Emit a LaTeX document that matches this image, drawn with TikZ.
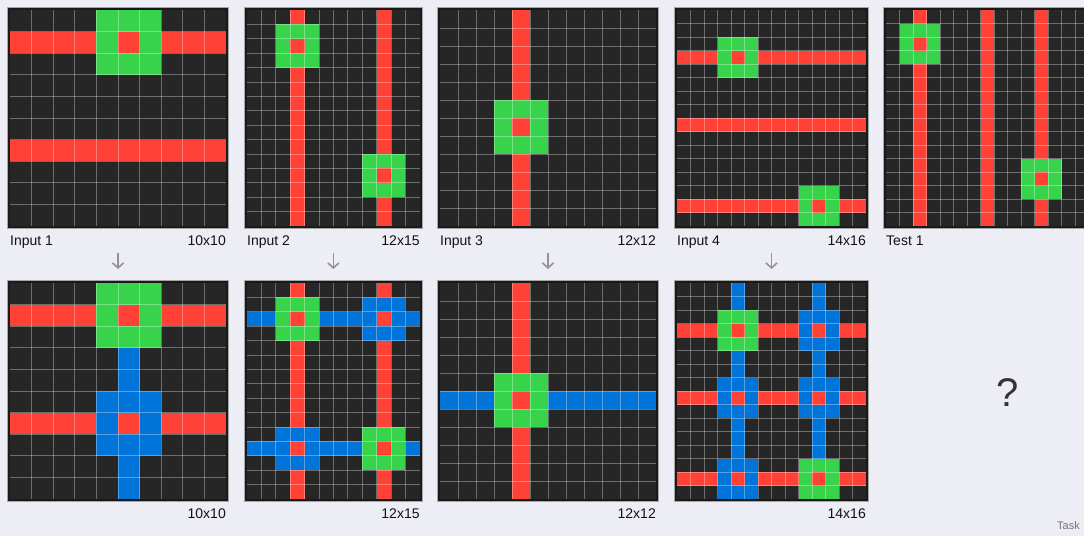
\documentclass[tikz,border=0pt]{standalone}
\usepackage{fontspec}
\setmainfont{Liberation Sans}
\usetikzlibrary{positioning, arrows.meta}
\definecolor{page}{HTML}{EDEDF5}
\definecolor{cellbg}{HTML}{262626}
\definecolor{rim}{HTML}{1A1A1A}
\definecolor{cred}{HTML}{FF4136}
\definecolor{cgreen}{HTML}{37D44B}
\definecolor{cblue}{HTML}{0074D9}
\definecolor{txt}{HTML}{111111}

% one ARC grid: x0, y0 (top left of the cells), cell size, columns, rows
\newcommand{\arcgrid}[5]{%
  \def\gx{#1}\def\gy{#2}\def\gs{#3}\def\gw{#4}\def\gh{#5}%
  \pgfmathsetmacro\gwd{#4*#3}\pgfmathsetmacro\ght{#5*#3}%
  \filldraw[fill=rim, draw=gray!70, line width=0.8pt] (#1-2.6,#2-2.6) rectangle ++(\gwd+5.2,\ght+5.2);
  \fill[cellbg] (#1,#2) rectangle ++(\gwd,\ght);
}
\newcommand{\gridlines}{%
  \pgfmathtruncatemacro\gwm{\gw-1}\pgfmathtruncatemacro\ghm{\gh-1}%
  \foreach \i in {1,...,\gwm} \draw[gline] (\gx+\i*\gs,\gy) -- ++(0,\ght);
  \foreach \i in {1,...,\ghm} \draw[gline] (\gx,\gy+\i*\gs) -- ++(\gwd,0);
}
% colour, row, first column, last column
\newcommand{\cellrow}[4]{\fill[#1] (\gx+#3*\gs,\gy+#2*\gs) rectangle (\gx+#4*\gs+\gs,\gy+#2*\gs+\gs);}
% colour, column, first row, last row
\newcommand{\cellcol}[4]{\fill[#1] (\gx+#2*\gs,\gy+#3*\gs) rectangle (\gx+#2*\gs+\gs,\gy+#4*\gs+\gs);}
% colour, centre row, centre column (3x3 ring with a red middle)
\newcommand{\cellbox}[3]{\fill[#1] (\gx+#3*\gs-\gs,\gy+#2*\gs-\gs) rectangle ++(3*\gs,3*\gs);
  \fill[cred] (\gx+#3*\gs,\gy+#2*\gs) rectangle ++(\gs,\gs);}

\begin{document}
\begin{tikzpicture}[
  x=1pt, y=-1pt,
  gline/.style={white, opacity=0.33, line width=0.8pt},
  lbl/.style={font=\fontsize{14}{16}\selectfont, text=txt, inner sep=0pt},
  flow/.style={-{Straight Barb[length=5pt, width=11pt]}, line width=1.6pt, gray!85}
]
  \fill[page] (0,0) rectangle (1084,536);
  \useasboundingbox (0,0) rectangle (1084,536);
  \clip (0,0) rectangle (1084,536);

  % Input 1
  \arcgrid{10}{10}{21.6}{10}{10}
  \cellrow{cred}{1}{0}{9} \cellrow{cred}{6}{0}{9}
  \cellbox{cgreen}{1}{5}
  \gridlines
  \node[lbl, anchor=base west] (lin1) at (10,245) {Input 1};
  \node[lbl, anchor=base east] (lsz1) at (226,245) {10x10};

  % Output 1
  \arcgrid{10}{283}{21.6}{10}{10}
  \cellrow{cred}{1}{0}{9} \cellrow{cred}{6}{0}{9}
  \cellcol{cblue}{5}{3}{9}
  \cellbox{cgreen}{1}{5} \cellbox{cblue}{6}{5}
  \gridlines
  \node[lbl, anchor=base east] (osz1) at (226,518) {10x10};

  % Input 2
  \arcgrid{247}{10}{14.4}{12}{15}
  \cellcol{cred}{3}{0}{14} \cellcol{cred}{9}{0}{14}
  \cellbox{cgreen}{2}{3} \cellbox{cgreen}{11}{9}
  \gridlines
  \node[lbl, anchor=base west] (lin2) at (247,245) {Input 2};
  \node[lbl, anchor=base east] (lsz2) at (419.8,245) {12x15};

  % Output 2
  \arcgrid{247}{283}{14.4}{12}{15}
  \cellcol{cred}{3}{0}{14} \cellcol{cred}{9}{0}{14}
  \cellrow{cblue}{2}{0}{11} \cellrow{cblue}{11}{0}{11}
  \cellbox{cgreen}{2}{3} \cellbox{cblue}{2}{9}
  \cellbox{cblue}{11}{3} \cellbox{cgreen}{11}{9}
  \gridlines
  \node[lbl, anchor=base east] (osz2) at (419.8,518) {12x15};

  % Input 3
  \arcgrid{440}{10}{18}{12}{12}
  \cellcol{cred}{4}{0}{11}
  \cellbox{cgreen}{6}{4}
  \gridlines
  \node[lbl, anchor=base west] (lin3) at (440,245) {Input 3};
  \node[lbl, anchor=base east] (lsz3) at (656,245) {12x12};

  % Output 3
  \arcgrid{440}{283}{18}{12}{12}
  \cellcol{cred}{4}{0}{11}
  \cellrow{cblue}{6}{0}{11}
  \cellbox{cgreen}{6}{4}
  \gridlines
  \node[lbl, anchor=base east] (osz3) at (656,518) {12x12};

  % Input 4
  \arcgrid{677}{10}{13.5}{14}{16}
  \cellrow{cred}{3}{0}{13} \cellrow{cred}{8}{0}{13} \cellrow{cred}{14}{0}{13}
  \cellbox{cgreen}{3}{4} \cellbox{cgreen}{14}{10}
  \gridlines
  \node[lbl, anchor=base west] (lin4) at (677,245) {Input 4};
  \node[lbl, anchor=base east] (lsz4) at (866,245) {14x16};

  % Output 4
  \arcgrid{677}{283}{13.5}{14}{16}
  \cellrow{cred}{3}{0}{13} \cellrow{cred}{8}{0}{13} \cellrow{cred}{14}{0}{13}
  \cellcol{cblue}{4}{0}{15} \cellcol{cblue}{10}{0}{15}
  \cellbox{cgreen}{3}{4} \cellbox{cblue}{8}{4} \cellbox{cblue}{14}{4}
  \cellbox{cblue}{3}{10} \cellbox{cblue}{8}{10} \cellbox{cgreen}{14}{10}
  \gridlines
  \node[lbl, anchor=base east] (osz4) at (866,518) {14x16};

  % Test 1
  \arcgrid{886}{10}{13.5}{16}{16}
  \cellcol{cred}{2}{0}{15} \cellcol{cred}{7}{0}{15} \cellcol{cred}{11}{0}{15}
  \cellbox{cgreen}{2}{2} \cellbox{cgreen}{12}{11}
  \gridlines
  \node[lbl, anchor=base west] (lts1) at (886,245) {Test 1};

  \node[font=\fontsize{40}{40}\selectfont, text=black!80, inner sep=0pt, anchor=base] (ask) at (1008,406) {?};
  \node[font=\fontsize{11}{12}\selectfont, text=black!55, inner sep=0pt, anchor=base east] (task) at (1080,529) {Task};

  % Arrows
  \coordinate (s1) at (118,253);   \coordinate (e1) at (118,269);
  \coordinate (s2) at (333.4,253); \coordinate (e2) at (333.4,269);
  \coordinate (s3) at (548,253);   \coordinate (e3) at (548,269);
  \coordinate (s4) at (771.5,253); \coordinate (e4) at (771.5,269);
  \foreach \k in {1,...,4} \draw[flow] (s\k) -- (e\k);
\end{tikzpicture}
\end{document}
